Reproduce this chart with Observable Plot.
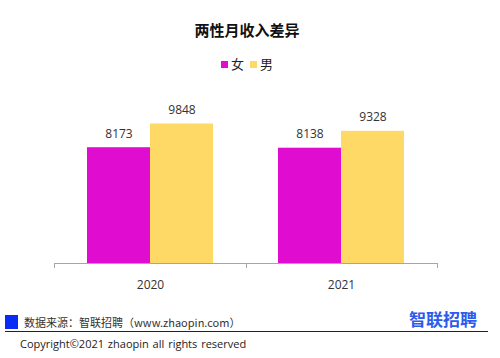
<!DOCTYPE html>
<html><head><meta charset="utf-8">
<script src="https://cdn.jsdelivr.net/npm/d3@7"></script>
<script src="https://cdn.jsdelivr.net/npm/@observablehq/plot@0.6"></script>
<style>
body{margin:0;background:#fff;}
#wrap{position:relative;width:500px;height:358px;overflow:hidden;font-family:"Noto Sans CJK SC","Open Sans",sans-serif;color:#333;}
#title{position:absolute;left:0;width:494px;top:19px;text-align:center;font-size:15px;font-weight:bold;color:#111;line-height:22px;}
#legend{position:absolute;left:0;width:494px;top:55px;text-align:center;font-size:13px;line-height:18px;color:#222;}
#legend span.sw{display:inline-block;width:7px;height:7px;margin-right:3px;vertical-align:1px;}
#legend span.it{margin:0 3px;}
#chart{position:absolute;left:0;top:80px;}
#src{position:absolute;left:5px;top:315px;font-size:11px;line-height:14px;color:#333;}
#src .box{display:inline-block;width:13px;height:14px;background:#0A2BF5;vertical-align:top;margin-right:6px;}
#line{position:absolute;left:5px;top:331px;width:483px;height:1px;background:#222;}
#copy{position:absolute;left:20px;top:337px;font-size:11px;line-height:14px;color:#222;font-family:"Open Sans",sans-serif;word-spacing:1px;}
#logo{position:absolute;left:409px;top:308px;font-size:17px;font-weight:bold;color:#2D5BEB;line-height:22px;}
</style></head>
<body><div id="wrap">
<div id="title"></div>
<div id="legend"></div>
<div id="chart"></div>
<div id="src"><span class="box"></span><span id="srctext"></span></div>
<div id="line"></div>
<div id="copy"></div>
<div id="logo"></div>
</div>
<script>
const titleText = "两性月收入差异";
const years = ["2020", "2021"];
const sexes = ["女", "男"];
const female = [8173, 8138];
const male = [9848, 9328];
const colors = ["#E00DD0", "#FFD966"];
const sourceText = "数据来源：智联招聘（www.zhaopin.com）";
const copyText = "Copyright©2021 zhaopin all rights reserved";
const logoText = "智联招聘";

document.getElementById("title").textContent = titleText;
document.getElementById("srctext").textContent = sourceText;
document.getElementById("copy").textContent = copyText;
document.getElementById("logo").textContent = logoText;
const lg = document.getElementById("legend");
sexes.forEach((s, i) => {
  const it = document.createElement("span"); it.className = "it";
  const sw = document.createElement("span"); sw.className = "sw"; sw.style.background = colors[i];
  it.appendChild(sw); it.appendChild(document.createTextNode(s));
  lg.appendChild(it);
});

const data = years.flatMap((y, i) => [
  {year: y, sex: sexes[0], value: female[i]},
  {year: y, sex: sexes[1], value: male[i]}
]);

const chart = Plot.plot({
  width: 500, height: 220,
  marginTop: 13, marginBottom: 37, marginLeft: 54, marginRight: 63,
  style: {fontFamily: "'Open Sans', sans-serif", fontSize: "12px", color: "#333", background: "transparent"},
  fx: {domain: years, paddingInner: 0.342, paddingOuter: 0.171, label: null, axis: "bottom", tickSize: 0, tickPadding: 17},
  x: {domain: sexes, padding: 0, axis: null},
  y: {domain: [0, 12000], axis: null},
  color: {domain: sexes, range: colors},
  marks: [
    Plot.barY(data, {fx: "year", x: "sex", y: "value", fill: "sex"}),
    Plot.text(data, {fx: "year", x: "sex", y: "value", text: d => String(d.value), dy: -14, fill: "#333", fontSize: 12})
  ]
});
document.getElementById("chart").appendChild(chart);

// category axis baseline and boundary ticks from the library's scales
const fx = chart.scale("fx");
const ys = chart.scale("y");
const y0 = ys.apply(0);
const r0 = Math.min(...fx.range), r1 = Math.max(...fx.range);
const step = (r1 - r0) / years.length;
const svg = d3.select(chart);
svg.append("line").attr("x1", r0).attr("x2", r1).attr("y1", y0 + 0.5).attr("y2", y0 + 0.5)
  .attr("stroke", "#A6A6A6").attr("stroke-width", 1);
d3.range(years.length + 1).forEach(i => {
  const x = Math.round(r0 + i * step) + 0.5;
  svg.append("line").attr("x1", x).attr("x2", x).attr("y1", y0).attr("y2", y0 + 5)
    .attr("stroke", "#A6A6A6").attr("stroke-width", 1);
});
</script>
</body></html>
